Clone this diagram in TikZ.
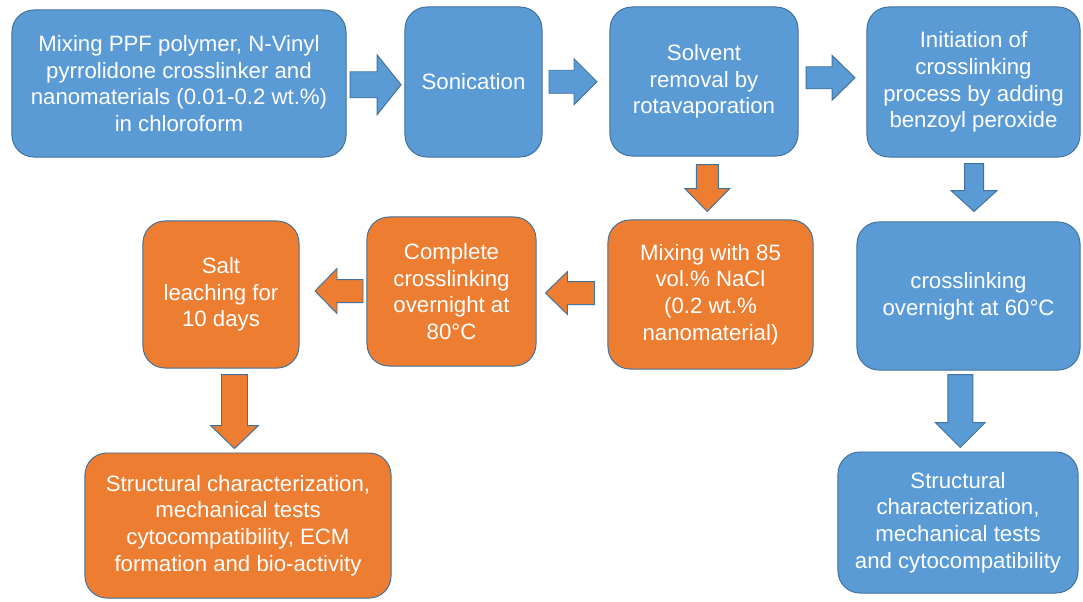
\documentclass[tikz,border=0pt]{standalone}
\usepackage{fontspec}
\setmainfont{Liberation Sans}
\usetikzlibrary{calc}
\definecolor{boxblue}{HTML}{5B9BD5}
\definecolor{boxorange}{HTML}{ED7D31}
\definecolor{edgeline}{HTML}{41719C}

% block arrow: fill, centre, direction, length, half shaft, half head, head length
\newcommand{\blockarrow}[7]{%
    \begin{scope}[shift={#2},rotate=#3]
        \filldraw[fatarrow,fill=#1] ({-#4/2},-#5) -- ({#4/2-#7},-#5) -- ({#4/2-#7},-#6) -- ({#4/2},0)
            -- ({#4/2-#7},#6) -- ({#4/2-#7},#5) -- ({-#4/2},#5) -- cycle;
    \end{scope}}

\begin{document}
\begin{tikzpicture}[x=0.025cm,y=-0.025cm,
    stepbox/.style={rounded corners=0.55cm,draw=edgeline,line width=0.7pt,text=white,
        align=center,inner sep=0pt,font=\fontsize{15.8}{19}\selectfont},
    bluebox/.style={stepbox,fill=boxblue},
    orangebox/.style={stepbox,fill=boxorange},
    fatarrow/.style={draw=edgeline,line width=0.7pt,line join=miter}]
            \useasboundingbox (0,0) rectangle (1083,601);

            % top row
            \node[bluebox,minimum width=8.35cm,minimum height=3.675cm] (mix) at (179,83.5)
                {Mixing PPF polymer, N-Vinyl\\pyrrolidone crosslinker and\\nanomaterials (0.01-0.2 wt.\%)\\in chloroform};
            \node[bluebox,minimum width=3.425cm,minimum height=3.75cm] (sonic) at (473.5,82) {Sonication};
            \node[bluebox,minimum width=4.7cm,minimum height=3.725cm] (solvent) at (704,81.5)
                {Solvent\\removal by\\rotavaporation};
            \node[bluebox,minimum width=5.325cm,minimum height=3.75cm] (init) at (973.5,82)
                {Initiation of\\crosslinking\\process by adding\\benzoyl peroxide};

            % middle row
            \node[orangebox,minimum width=5.125cm,minimum height=3.725cm] (nacl) at (710.5,294.5)
                {Mixing with 85\\vol.\% NaCl\\(0.2 wt.\%\\nanomaterial)};
            \node[orangebox,minimum width=4.225cm,minimum height=3.725cm] (cure80) at (451.5,291.5)
                {Complete\\crosslinking\\overnight at\\80°C};
            \node[orangebox,minimum width=3.9cm,minimum height=3.675cm] (salt) at (221,294.5)
                {Salt\\leaching for\\10 days};
            \node[bluebox,minimum width=5.575cm,minimum height=3.7cm] (cure60) at (968.5,296)
                {crosslinking\\overnight at 60°C};

            % bottom row
            \node[orangebox,minimum width=7.65cm,minimum height=3.625cm] (orangeend) at (238,525.5)
                {Structural characterization,\\mechanical tests\\cytocompatibility, ECM\\formation and bio-activity};
            \node[bluebox,minimum width=6cm,minimum height=3.525cm] (blueend) at (958,522.5)
                {Structural\\characterization,\\mechanical tests\\and cytocompatibility};

            % block arrows between the boxes
            \blockarrow{boxblue}{($(mix.east)!0.5!(sonic.west)+(0,2)$)}{0}{51}{13}{30}{24}
            \blockarrow{boxblue}{($(sonic.east)!0.5!(solvent.west)+(-3,0)$)}{0}{48}{11.5}{23}{23}
            \blockarrow{boxblue}{($(solvent.east)!0.5!(init.west)+(-2,-4)$)}{0}{49}{11}{22.5}{23}
            \blockarrow{boxorange}{($(solvent.south)!0.5!(nacl.north)$)}{-90}{47}{11}{22.5}{23}
            \blockarrow{boxblue}{($(init.south)!0.5!(cure60.north)+(3,-2)$)}{-90}{48}{9.5}{23}{21}
            \blockarrow{boxblue}{($(cure60.south)!0.5!(blueend.north)+(-3,0)$)}{-90}{73}{12.5}{25}{25}
            \blockarrow{boxorange}{($(nacl.west)!0.5!(cure80.east)+(-2,0)$)}{180}{49}{11.5}{21.5}{22}
            \blockarrow{boxorange}{($(cure80.west)!0.5!(salt.east)+(6,-2)$)}{180}{48}{11.5}{22.5}{22}
            \blockarrow{boxorange}{($(salt.south)!0.5!(orangeend.north)+(5,1)$)}{-90}{74}{13}{24}{23}
        \end{tikzpicture}
\end{document}
